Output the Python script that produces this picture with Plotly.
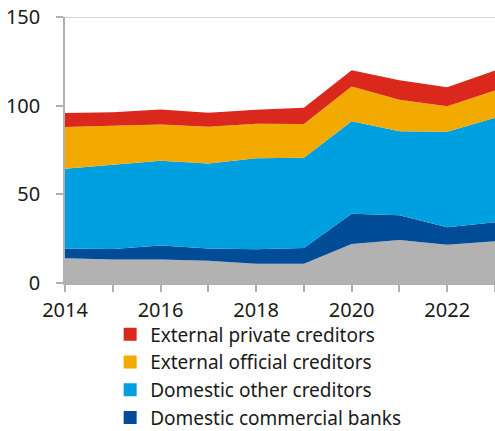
import plotly.graph_objects as go

# Data (stacked shares, bottom to top)
years = [2014, 2015, 2016, 2017, 2018, 2019, 2020, 2021, 2022, 2023]
central_bank = [13.9, 13.3, 13.2, 12.6, 10.9, 10.9, 22.0, 24.3, 21.5, 23.5]
domestic_banks = [5.6, 5.9, 7.9, 6.9, 8.1, 8.9, 17.0, 13.9, 9.9, 10.7]
domestic_other = [44.9, 47.4, 47.8, 47.9, 51.4, 50.8, 52.2, 47.4, 53.9, 59.0]
external_official = [23.5, 22.0, 20.5, 20.7, 19.4, 19.0, 19.6, 17.7, 14.4, 15.4]
external_private = [7.9, 7.7, 8.5, 7.9, 7.9, 9.2, 9.2, 11.1, 10.7, 11.3]

tick_years = years
tick_text = [str(y) if y % 2 == 0 else "" for y in years]

series = [
    ("Central bank", central_bank, "#b2b2b2", False),
    ("Domestic commercial banks", domestic_banks, "#004c97", True),
    ("Domestic other creditors", domestic_other, "#009fdf", True),
    ("External official creditors", external_official, "#f2a900", True),
    ("External private creditors", external_private, "#da291c", True),
]

FONT = "Noto Sans"

fig = go.Figure()

for name, vals, color, in_legend in series:
    fig.add_trace(go.Scatter(
        x=years, y=vals, name=name,
        stackgroup="one", mode="lines",
        line=dict(width=0, color=color),
        fillcolor=color,
        showlegend=False,
        hoverinfo="x+y+name",
    ))

# legend entries as square markers
for name, vals, color, in_legend in series:
    if not in_legend:
        continue
    fig.add_trace(go.Scatter(
        x=[None], y=[None], name=name, mode="markers",
        marker=dict(symbol="square", size=13, color=color),
        showlegend=True,
    ))

# top border line at 150
fig.add_shape(type="line", xref="paper", x0=0, x1=1, yref="y", y0=150, y1=150,
              line=dict(color="#c8c8c8", width=1.5))

# figure is a little taller than the window so the legend's bottom padding
# doesn't push the plot area up; the extra strip is hidden
fig.update_layout(
    width=495, height=440,
    margin=dict(l=65, r=0, t=17, b=157),
    paper_bgcolor="white",
    plot_bgcolor="white",
    font=dict(family=FONT, size=20, color="#1a1a1a"),
    legend=dict(
        x=0.105, y=-0.122, xanchor="left", yanchor="top",
        traceorder="reversed",
        font=dict(family=FONT, size=19, color="#1a1a1a"),
        itemwidth=30,
        tracegroupgap=0,
        borderwidth=0,
        bgcolor="rgba(0,0,0,0)",
    ),
    xaxis=dict(
        range=[2014, 2023],
        tickmode="array", tickvals=tick_years, ticktext=tick_text,
        ticks="outside", ticklen=7, tickcolor="#b0b0b0", tickwidth=1.5,
        ticklabelstandoff=1,
        showline=True, linecolor="#b0b0b0", linewidth=1.5,
        showgrid=False, zeroline=False,
    ),
    yaxis=dict(
        range=[0, 150],
        tickvals=[0, 50, 100, 150],
        ticks="outside", ticklen=7, tickcolor="#b0b0b0", tickwidth=1.5,
        ticklabelstandoff=12,
        showline=True, linecolor="#b0b0b0", linewidth=1.5,
        showgrid=False, zeroline=False,
    ),
)

# drop the browser's default body margin and scrollbars
fig.write_html(
    "out.html", config={"displayModeBar": False},
    post_script=("document.body.style.margin='0';"
                 "document.body.style.overflow='hidden';"
                 "document.documentElement.style.overflow='hidden';"),
)
